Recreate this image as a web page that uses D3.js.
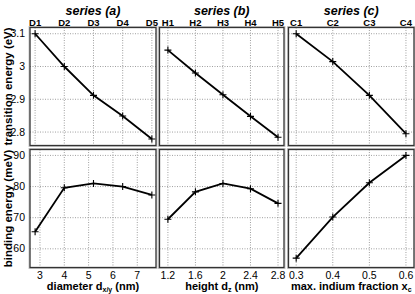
<!DOCTYPE html>
<html>
<head>
<meta charset="utf-8">
<script src="https://cdn.jsdelivr.net/npm/d3@7"></script>
<style>
  body { margin: 0; background: #fff; }
  svg { font-family: "Liberation Sans", Arial, sans-serif; }
  .tick { font-family: "Liberation Sans Narrow", "Arial Narrow", "Liberation Sans", sans-serif; }
</style>
</head>
<body>
<svg width="415" height="294"></svg>
<script>
// data
const diameter = [2.8, 4.0, 5.2, 6.4, 7.6];
const diameterNames = ["D1", "D2", "D3", "D4", "D5"];
const diameterTrans = [3.10, 3.00, 2.912, 2.849, 2.779];
const diameterBind = [65.5, 79.6, 81.0, 80.0, 77.3];

const height = [1.2, 1.6, 2.0, 2.4, 2.8];
const heightNames = ["H1", "H2", "H3", "H4", "H5"];
const heightTrans = [3.05, 2.98, 2.914, 2.848, 2.784];
const heightBind = [69.5, 78.3, 81.0, 79.3, 74.6];

const indium = [0.3, 0.4, 0.5, 0.6];
const indiumNames = ["C1", "C2", "C3", "C4"];
const indiumTrans = [3.10, 3.015, 2.912, 2.795];
const indiumBind = [57.0, 70.2, 81.2, 90.0];

const transTicks = [2.8, 2.9, 3.0, 3.1];
const bindTicks = [60, 70, 80, 90];

const svg = d3.select("svg");

const topRow = { y0: 27.5, y1: 145.5 };
const botRow = { y0: 149.5, y1: 267.5 };

const yTrans = d3.scaleLinear().domain([2.759, 3.119]).range([topRow.y1, topRow.y0]);
const yBind = d3.scaleLinear().domain([54, 91.9]).range([botRow.y1, botRow.y0]);

const panels = [
  { title: "series (a)", x0: 30, x1: 156, domain: [2.59, 7.77], xs: diameter, names: diameterNames,
    trans: diameterTrans, bind: diameterBind, ticks: [3, 4, 5, 6, 7], fmt: d3.format("d"),
    label: ["diameter d", "x/y", " (nm)"] },
  { title: "series (b)", x0: 159.5, x1: 284, domain: [1.078, 2.887], xs: height, names: heightNames,
    trans: heightTrans, bind: heightBind, ticks: [1.2, 1.6, 2.0, 2.4, 2.8], fmt: d3.format(".2~f"),
    label: ["height d", "z", " (nm)"] },
  { title: "series (c)", x0: 288.5, x1: 414, domain: [0.279, 0.622], xs: indium, names: indiumNames,
    trans: indiumTrans, bind: indiumBind, ticks: [0.3, 0.4, 0.5, 0.6], fmt: d3.format(".1f"),
    label: ["max. indium fraction x", "c", ""] }
];

function plus(g, pts) {
  g.selectAll(null).data(pts).enter().append("path")
    .attr("d", d => `M${d[0] - 3.5},${d[1]}h7M${d[0]},${d[1] - 3.5}v7`)
    .attr("stroke", "#000").attr("stroke-width", 1.1);
}

panels.forEach((p, i) => {
  const x = d3.scaleLinear().domain(p.domain).range([p.x0, p.x1]);
  const g = svg.append("g");

  [[topRow, yTrans, transTicks, p.trans, p.xs], [botRow, yBind, bindTicks, p.bind, p.ticks]].forEach(([box, y, yt, vals, vgrid], row) => {
    // outer light frame
    g.append("rect").attr("x", p.x0 - 1).attr("y", box.y0 - 1)
      .attr("width", p.x1 - p.x0 + 2).attr("height", box.y1 - box.y0 + 2)
      .attr("fill", "none").attr("stroke", "#c8c8c8").attr("stroke-width", 1);

    g.selectAll(null).data(yt).enter().append("line")
      .attr("x1", p.x0).attr("x2", p.x1)
      .attr("y1", d => y(d)).attr("y2", d => y(d))
      .attr("stroke", "#888").attr("stroke-width", 0.8).attr("stroke-dasharray", "1,1.5");
    g.selectAll(null).data(vgrid).enter().append("line")
      .attr("x1", d => x(d)).attr("x2", d => x(d))
      .attr("y1", box.y0).attr("y2", box.y1)
      .attr("stroke", "#888").attr("stroke-width", 0.8).attr("stroke-dasharray", "1,1.5");

    const line = d3.line().x((d, k) => x(p.xs[k])).y(d => y(d));
    g.append("path").datum(vals).attr("d", line)
      .attr("fill", "none").attr("stroke", "#000").attr("stroke-width", 1.8);
    plus(g, vals.map((v, k) => [x(p.xs[k]), y(v)]));

    g.append("rect").attr("x", p.x0).attr("y", box.y0)
      .attr("width", p.x1 - p.x0).attr("height", box.y1 - box.y0)
      .attr("fill", "none").attr("stroke", "#333").attr("stroke-width", 1.3);

    if (i === 0) {
      g.selectAll(null).data(yt).enter().append("text")
        .attr("class", "tick")
        .attr("x", 25).attr("y", d => y(d) + 3.5)
        .attr("text-anchor", "end").attr("font-size", 10.5)
        .text(row === 0 ? d3.format(".2~f") : d3.format("d"));
    }
  });

  // title and top labels
  svg.append("text").attr("x", (p.x0 + p.x1) / 2).attr("y", 15)
    .attr("text-anchor", "middle").attr("font-size", 12.5)
    .attr("font-weight", "bold").attr("font-style", "italic")
    .text(p.title);
  svg.selectAll(null).data(p.xs).enter().append("text")
    .attr("x", d => x(d)).attr("y", 25.5)
    .attr("text-anchor", "middle").attr("font-size", 9.5).attr("font-weight", "bold")
    .text((d, k) => p.names[k]);

  // bottom axis
  svg.selectAll(null).data(p.ticks).enter().append("text")
    .attr("class", "tick")
    .attr("x", d => x(d)).attr("y", 279)
    .attr("text-anchor", "middle").attr("font-size", 10.5)
    .text(p.fmt);
  const t = svg.append("text").attr("x", (p.x0 + p.x1) / 2).attr("y", 290)
    .attr("text-anchor", "middle").attr("font-size", 11).attr("font-weight", "bold");
  t.append("tspan").text(p.label[0]);
  t.append("tspan").attr("dy", 2).attr("font-size", 7).text(p.label[1]);
  t.append("tspan").attr("dy", -2).text(p.label[2]);
});

// y axis titles
svg.append("text").attr("transform", `translate(12,${(topRow.y0 + topRow.y1) / 2}) rotate(-90)`)
  .attr("text-anchor", "middle").attr("font-size", 11.5).attr("font-weight", "bold")
  .text("transition energy (eV)");
svg.append("text").attr("transform", `translate(12,${(botRow.y0 + botRow.y1) / 2}) rotate(-90)`)
  .attr("text-anchor", "middle").attr("font-size", 11.5).attr("font-weight", "bold")
  .text("binding energy (meV)");
</script>
</body>
</html>
